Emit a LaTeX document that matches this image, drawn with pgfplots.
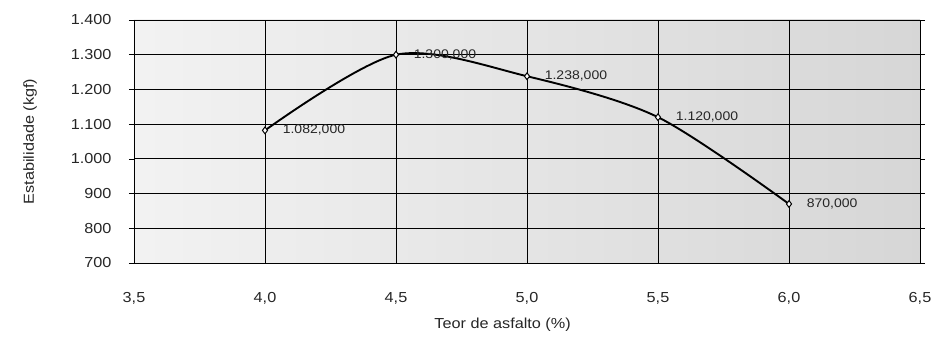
\documentclass[border=0pt]{standalone}
\usepackage{pgfplots}
\pgfplotsset{compat=1.18}
\usepackage{fontspec}
\setmainfont{Liberation Sans}[FakeStretch=1.12]
\begin{document}
\begin{tikzpicture}
\begin{axis}[
  scale only axis, width=786bp, height=243bp,
  xmin=3.5, xmax=6.5, ymin=700, ymax=1400,
  xtick={3.5,4.0,4.5,5.0,5.5,6.0,6.5},
  ytick={700,800,900,1000,1100,1200,1300,1400},
  /pgf/number format/assume math mode=true,
  xticklabel={\pgfmathprintnumber[fixed,fixed zerofill,precision=1,use comma]{\tick}},
  yticklabel={\pgfmathprintnumber[fixed,precision=0,1000 sep={.}]{\tick}},
  tick label style={font=\fontsize{14.5bp}{16bp}\selectfont, text=black!85},
  x tick label style={yshift=-21bp},
  y tick label style={xshift=-14bp},
  tick align=outside, major tick length=5bp,
  xtick style={draw=none},
  ytick style={black, line width=0.6bp},
  grid=major,
  major grid style={black, line width=0.8bp},
  axis line style={black, line width=0.9bp},
  axis background/.style={left color=gray!10, right color=gray!32},
  xlabel={Teor de asfalto (\%)},
  ylabel={Estabilidade (kgf)},
  label style={font=\fontsize{14.5bp}{16bp}\selectfont, text=black!85},
  xlabel style={at={(axis description cs:0.469,-0.255)}, anchor=center},
  ylabel style={at={(axis description cs:-0.1323,0.5)}, anchor=center},
  clip=false,
]
\addplot[black, line width=1.9bp, smooth, tension=0.5,
  mark=diamond*, mark size=3.4bp,
  mark options={fill=white, draw=black, line width=1bp},
  nodes near coords={\pgfmathprintnumber[fixed,fixed zerofill,precision=3,use comma,1000 sep={.}]{\pgfplotspointmeta}},
  every node near coord/.append style={anchor=west, xshift=14bp, yshift=0bp, font=\fontsize{12.5bp}{13bp}\selectfont, text=black!85},
  point meta=explicit]
  coordinates {
    (4.0,1082) [1082]
    (4.5,1300) [1300]
    (5.0,1238) [1238]
    (5.5,1120) [1120]
    (6.0,870) [870]
  };
\end{axis}
\pgfresetboundingbox
\path[use as bounding box] ([shift={(-134bp,-74bp)}]current axis.south west) rectangle ([shift={(21bp,20bp)}]current axis.north east);
\end{tikzpicture}
\end{document}
